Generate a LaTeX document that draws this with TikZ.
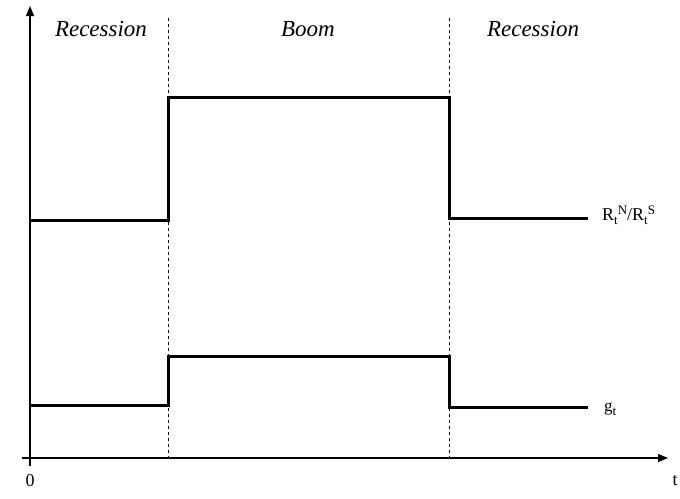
\documentclass[tikz,border=0pt]{standalone}
\usepackage{fontspec}
\setmainfont{Liberation Serif}
\usetikzlibrary{arrows.meta}
\tikzset {>={Triangle[length=10pt,width=8pt]}}
\tikzset{
  path/.style={line width=3pt},
  phase/.style={font=\fontsize{23}{26}\selectfont\itshape},
  lbl/.style={font=\fontsize{18}{21}\selectfont,inner sep=0pt}
}
\newcommand\lsub[1]{\raisebox{-4pt}{\fontsize{13}{14}\selectfont #1}}
\newcommand\lsup[1]{\raisebox{6pt}{\fontsize{13}{14}\selectfont #1}}

\begin{document}
\begin{tikzpicture}[x=1pt,y=-1pt]
\useasboundingbox (0,0) rectangle (680,498);
% axes
\draw[->,line width=1.1pt] (30,466) -- (30,6);
\draw[->,line width=1.1pt] (22,458) -- (668,458);
\node[lbl] (zero) at (30,481) {0};
\node[lbl] (tt) at (675,481) {t};
% phase borders
\draw[dashed,line width=0.7pt] (168,18) -- (168,458);
\draw[dashed,line width=0.7pt] (449,18) -- (449,458);
\node[phase] (rec1) at (101,29) {Recession};
\node[phase] (boom) at (308,29) {Boom};
\node[phase] (rec2) at (533,29) {Recession};
% ratio and growth
\draw[path] (30,220) -- (168,220) -- (168,97) -- (449,97) -- (449,218) -- (588,218);
\draw[path] (30,405) -- (168,405) -- (168,356) -- (449,356) -- (449,407) -- (588,407);
\node[lbl,anchor=base west] (ratio) at (602,220) {R\lsub{t}\lsup{N}/R\lsub{t}\lsup{S}};
\node[lbl,anchor=base west,font=\fontsize{17}{20}\selectfont] (growth) at (604,411) {g\lsub{t}};
\end{tikzpicture}
\end{document}
